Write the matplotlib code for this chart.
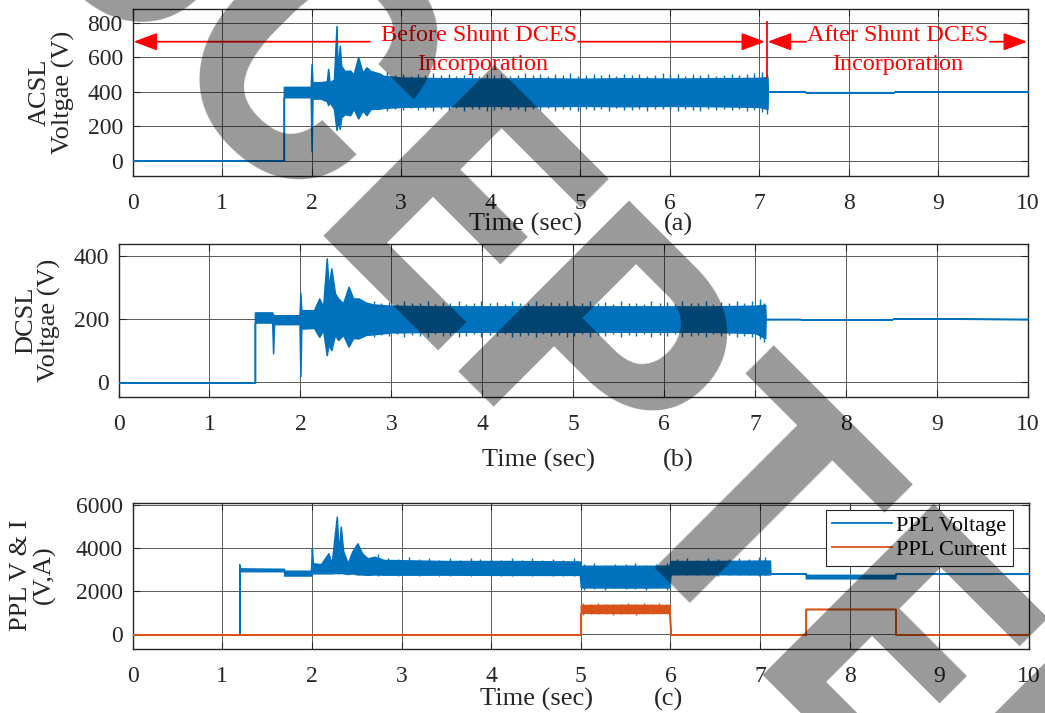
import matplotlib
matplotlib.use("Agg")
import matplotlib.pyplot as plt
from matplotlib.lines import Line2D

plt.rcParams['font.family'] = ['Liberation Serif', 'DejaVu Serif']

BLUE = '#0072BD'
ORANGE = '#D95319'
AXC = '#262626'

# ---------------- data ----------------
# (a) ACSL voltage: upper / lower envelope of the dense part of the trace
acsl_t = [0, 1.69, 1.69, 1.99, 2.0, 2.01, 2.10, 2.17, 2.185, 2.20, 2.25, 2.278, 2.29, 2.315,
          2.33, 2.37, 2.43, 2.47, 2.52, 2.57, 2.613, 2.66, 2.76,
          2.8, 3.0, 3.5, 4.0, 4.5, 5.0, 5.5, 6.0, 6.5, 7.0, 7.09,
          7.095, 7.5, 7.52, 8.5, 8.52, 10]
acsl_hi = [0, 0, 428, 428, 561, 455, 455, 460, 532, 455, 470, 781, 520, 666,
           550, 520, 522, 500, 600, 510, 541, 520, 505,
           492, 482, 478, 476, 478, 475, 478, 476, 478, 480, 485,
           401, 401, 397, 397, 402, 401]
acsl_lo = [0, 0, 368, 368, 54, 360, 360, 345, 322, 340, 300, 178, 230, 185,
           250, 270, 264, 300, 245, 290, 264, 300, 302,
           306, 312, 316, 318, 316, 318, 316, 318, 316, 312, 300,
           401, 401, 397, 397, 402, 401]
# (a) short noise spikes on the edges of the band
acsl_sp_t = [2.84, 2.93, 3.02, 3.11, 3.19, 3.27, 3.36, 3.45, 3.53, 3.61, 3.70, 3.79, 3.87,
             3.96, 4.04, 4.12, 4.21, 4.30, 4.38, 4.47, 4.55, 4.64, 4.72, 4.81, 4.89, 4.98,
             5.06, 5.15, 5.23, 5.32, 5.40, 5.49, 5.58, 5.66, 5.75, 5.83, 5.92, 6.00, 6.09,
             6.17, 6.26, 6.34, 6.43, 6.52, 6.60, 6.69, 6.77, 6.86, 6.94, 7.03, 7.08]
acsl_sp_hi = [512, 498, 505, 492, 500, 496, 508, 494, 502, 490, 498, 506, 492,
              500, 495, 504, 490, 498, 506, 494, 500, 492, 503, 496, 508, 490,
              498, 502, 494, 505, 492, 500, 496, 504, 490, 498, 507, 494, 500,
              492, 502, 496, 505, 490, 498, 503, 494, 500, 506, 513, 505]
acsl_sp_lo = [288, 300, 294, 304, 292, 298, 286, 302, 296, 304, 290, 298, 300,
              288, 296, 302, 292, 300, 286, 298, 294, 304, 290, 300, 296, 288,
              302, 294, 298, 290, 304, 296, 292, 300, 288, 298, 302, 294, 290,
              300, 296, 288, 302, 294, 298, 292, 300, 288, 296, 280, 268]

# (b) DCSL voltage envelope
dcsl_t = [0, 1.5, 1.5, 1.69, 1.70, 1.71, 1.99, 2.0, 2.01, 2.15, 2.207, 2.25, 2.29, 2.31, 2.34,
          2.38, 2.415, 2.47, 2.53, 2.58, 2.64, 2.72,
          2.8, 3.0, 3.5, 4.0, 4.5, 5.0, 5.5, 6.0, 6.5, 7.0, 7.11,
          7.115, 7.5, 7.52, 8.5, 8.52, 10]
dcsl_hi = [0, 0, 221, 221, 214, 212, 212, 283, 228, 228, 265, 240, 392, 300, 360,
           281, 265, 250, 302, 265, 265, 252,
           246, 242, 240, 240, 240, 240, 240, 240, 240, 242, 245,
           200, 200, 198, 198, 202, 200]
dcsl_lo = [0, 0, 189, 189, 92, 184, 184, 20, 170, 172, 144, 165, 86, 120, 102,
           150, 134, 150, 113, 140, 139, 150,
           152, 158, 160, 160, 160, 160, 160, 160, 160, 156, 140,
           200, 200, 198, 198, 202, 200]
dcsl_sp_t = [2.81, 2.89, 2.97, 3.06, 3.14, 3.23, 3.31, 3.40, 3.48, 3.57, 3.65, 3.74, 3.82,
             3.91, 3.99, 4.08, 4.16, 4.25, 4.33, 4.42, 4.50, 4.59, 4.67, 4.76, 4.84, 4.93,
             5.01, 5.10, 5.18, 5.27, 5.35, 5.44, 5.52, 5.61, 5.69, 5.78, 5.86, 5.95, 6.03,
             6.12, 6.20, 6.29, 6.37, 6.46, 6.54, 6.63, 6.71, 6.80, 6.88, 6.97, 7.05, 7.10]
dcsl_sp_hi = [258, 250, 254, 248, 256, 250, 252, 258, 248, 254, 250, 256, 248,
              252, 258, 250, 254, 248, 256, 252, 250, 258, 248, 254, 250, 256,
              248, 252, 258, 250, 254, 248, 256, 250, 252, 248, 258, 250, 254,
              248, 256, 252, 250, 258, 248, 254, 250, 256, 252, 258, 262, 250]
dcsl_sp_lo = [144, 150, 146, 152, 142, 150, 148, 144, 152, 146, 150, 142, 148,
              152, 144, 150, 146, 152, 142, 148, 150, 144, 152, 146, 150, 142,
              148, 152, 144, 150, 146, 152, 142, 150, 148, 152, 144, 150, 146,
              152, 142, 148, 150, 144, 152, 146, 150, 142, 148, 144, 136, 128]

# (c) PPL voltage envelope
pplv_t = [0, 1.19, 1.19, 1.195, 1.69, 1.69, 1.99, 2.0, 2.01, 2.1, 2.185, 2.22, 2.278, 2.30,
          2.322, 2.35, 2.40, 2.45, 2.508, 2.56, 2.62, 2.70,
          2.8, 3.5, 4.2, 4.99, 5.0, 5.5, 5.99, 6.0, 6.5, 7.0, 7.11,
          7.115, 7.51, 7.51, 8.51, 8.51, 10]
pplv_hi = [0, 0, 3249, 3060, 3040, 2950, 2950, 3991, 3300, 3250, 3760, 3250, 5461, 3700,
           4997, 3840, 3300, 3840, 4223, 3760, 3527, 3600,
           3450, 3400, 3400, 3380, 3180, 3180, 3180, 3400, 3400, 3420, 3420,
           2830, 2830, 2760, 2760, 2810, 2810]
pplv_lo = [0, 0, 0, 2930, 2930, 2730, 2730, 2800, 2831, 2831, 2831, 2831, 2850, 2831,
           2850, 2831, 2800, 2831, 2780, 2780, 2760, 2780,
           2770, 2770, 2760, 2760, 2180, 2170, 2180, 2790, 2790, 2780, 2780,
           2830, 2830, 2600, 2600, 2810, 2810]
pplv_sp_t = [2.74, 2.85, 2.96, 3.08, 3.19, 3.31, 3.42, 3.54, 3.65, 3.77, 3.88, 4.00, 4.11,
             4.23, 4.34, 4.46, 4.57, 4.69, 4.80, 4.92, 5.04, 5.15, 5.27, 5.38, 5.50, 5.61,
             5.73, 5.84, 5.96, 6.07, 6.19, 6.30, 6.42, 6.53, 6.65, 6.76, 6.88, 6.99, 7.06]
pplv_sp_hi = [3750, 3560, 3500, 3600, 3480, 3540, 3470, 3520, 3460, 3560, 3480, 3500, 3450,
              3520, 3460, 3540, 3450, 3500, 3460, 3520, 3260, 3300, 3240, 3280, 3250, 3290,
              3240, 3280, 3300, 3480, 3520, 3460, 3540, 3480, 3500, 3560, 3500, 3580, 3605]
pplv_sp_lo = [2720, 2740, 2700, 2730, 2710, 2740, 2700, 2720, 2730, 2700, 2740, 2710, 2720,
              2700, 2730, 2710, 2740, 2700, 2720, 2710, 2080, 2120, 2060, 2140, 2090, 2110,
              2070, 2130, 2050, 2740, 2760, 2730, 2750, 2720, 2760, 2740, 2730, 2700, 2750]

# (c) PPL current envelope
ppli_t = [0, 5.0, 5.0, 5.5, 5.99, 6.0, 7.51, 7.51, 8.51, 8.51, 10]
ppli_hi = [0, 0, 1360, 1370, 1360, 0, 0, 1176, 1176, 0, 0]
ppli_lo = [0, 0, 1000, 990, 1000, 0, 0, 1176, 1176, 0, 0]
ppli_sp_t = [5.03, 5.11, 5.19, 5.28, 5.36, 5.45, 5.53, 5.62, 5.70, 5.79, 5.87, 5.96]
ppli_sp_hi = [1440, 1410, 1450, 1400, 1430, 1420, 1460, 1400, 1440, 1420, 1450, 1430]
ppli_sp_lo = [920, 950, 930, 960, 910, 940, 950, 920, 960, 930, 940, 950]

xticks = list(range(0, 11))
yticks_a = [0, 200, 400, 600, 800]
yticks_b = [0, 200, 400]
yticks_c = [0, 2000, 4000, 6000]

# ---------------- figure ----------------
W, H = 1045, 713
DPI = 100
fig = plt.figure(figsize=(W / DPI, H / DPI), dpi=DPI)


def box(l, r, t, b):
    return [l / W, 1 - b / H, (r - l) / W, (b - t) / H]


ax_a = fig.add_axes(box(132.5, 1028, 9.3, 176))
ax_b = fig.add_axes(box(118.5, 1028, 244, 397.3))
ax_c = fig.add_axes(box(132.6, 1029, 502.7, 649))


def style(ax, ylim, yticks):
    ax.set_xlim(0, 10)
    ax.set_ylim(*ylim)
    ax.set_xticks(xticks)
    ax.set_yticks(yticks)
    ax.grid(True, color='#5a5a5a', lw=0.7)
    ax.set_axisbelow(True)
    ax.tick_params(axis='both', direction='in', length=5, width=0.8, top=True, right=True,
                   color=AXC, labelcolor=AXC, labelsize=17)
    ax.tick_params(axis='x', pad=12)
    ax.tick_params(axis='y', pad=7)
    for s in ax.spines.values():
        s.set_color(AXC)
        s.set_linewidth(1.0)


style(ax_a, (-89, 878), yticks_a)
style(ax_b, (-47, 437), yticks_b)
style(ax_c, (-680, 6107), yticks_c)


def trace(ax, t, lo, hi, sp_t, sp_lo, sp_hi, color):
    ax.fill_between(t, lo, hi, color=color, lw=1.1, edgecolor=color, zorder=3)
    ax.vlines(sp_t, sp_lo, sp_hi, color=color, lw=1.0, zorder=3)


trace(ax_a, acsl_t, acsl_lo, acsl_hi, acsl_sp_t, acsl_sp_lo, acsl_sp_hi, BLUE)
trace(ax_b, dcsl_t, dcsl_lo, dcsl_hi, dcsl_sp_t, dcsl_sp_lo, dcsl_sp_hi, BLUE)
trace(ax_c, pplv_t, pplv_lo, pplv_hi, pplv_sp_t, pplv_sp_lo, pplv_sp_hi, BLUE)
trace(ax_c, ppli_t, ppli_lo, ppli_hi, ppli_sp_t, ppli_sp_lo, ppli_sp_hi, ORANGE)

# y labels
lab_kw = dict(fontsize=19, linespacing=1.05, color=AXC, va='center', ha='center')
ax_a.set_ylabel('ACSL\nVoltgae (V)', **lab_kw)
ax_a.yaxis.set_label_coords(-0.090, 0.5)
ax_b.set_ylabel('DCSL\nVoltgae (V)', **lab_kw)
ax_b.yaxis.set_label_coords(-0.0885, 0.5)
ax_c.set_ylabel('PPL V & I\n(V,A)', **lab_kw)
ax_c.yaxis.set_label_coords(-0.111, 0.505)

# x labels and panel tags
xl_kw = dict(fontsize=19, color=AXC, ha='center', va='center')
ax_a.text(0.439, -0.288, 'Time (sec)', transform=ax_a.transAxes, **xl_kw)
ax_a.text(0.610, -0.288, '(a)', transform=ax_a.transAxes, **xl_kw)
ax_b.text(0.462, -0.409, 'Time (sec)', transform=ax_b.transAxes, **xl_kw)
ax_b.text(0.615, -0.409, '(b)', transform=ax_b.transAxes, **xl_kw)
ax_c.text(0.4506, -0.342, 'Time (sec)', transform=ax_c.transAxes, **xl_kw)
ax_c.text(0.598, -0.342, '(c)', transform=ax_c.transAxes, **xl_kw)

# legend
handles = [Line2D([], [], color=BLUE, lw=1.3), Line2D([], [], color=ORANGE, lw=1.3)]
leg = ax_c.legend(handles, ['PPL Voltage', 'PPL Current'], loc='upper right',
                  bbox_to_anchor=(0.982, 0.950), borderaxespad=0, fontsize=16,
                  handlelength=2.7, handletextpad=0.2, borderpad=0.25, labelspacing=0.15,
                  fancybox=False, framealpha=1, edgecolor=AXC)
leg.get_frame().set_linewidth(0.8)
leg.set_zorder(5)

# red annotations in (a)
RED = '#FF0000'
ay = 690
arr = dict(arrowstyle='-|>,head_length=0.72,head_width=0.27', color=RED, lw=1.3,
           shrinkA=0, shrinkB=0, mutation_scale=20)
ax_a.annotate('', xy=(0.012, ay), xytext=(2.652, ay), arrowprops=arr, zorder=6)
ax_a.annotate('', xy=(7.063, ay), xytext=(4.978, ay), arrowprops=arr, zorder=6)
ax_a.annotate('', xy=(7.093, ay), xytext=(7.521, ay), arrowprops=arr, zorder=6)
ax_a.annotate('', xy=(9.989, ay), xytext=(9.575, ay), arrowprops=arr, zorder=6)
ax_a.plot([7.082, 7.082], [487, 806], color=RED, lw=1.3, zorder=6)
rt = dict(color=RED, fontsize=17.4, ha='center', va='baseline', zorder=6)
ax_a.text(3.869, 695, 'Before Shunt DCES', **rt)
ax_a.text(3.910, 524, 'Incorporation', **rt)
ax_a.text(8.548, 695, 'After Shunt DCES', **rt)
ax_a.text(8.543, 524, 'Incorporation', **rt)

# diagonal watermark (pen origin on the baseline, in image pixels from top-left)
WM_ORIGIN_PX = (-169.0, -255.0)
WM_EM_PX = 340.0
fig.text(WM_ORIGIN_PX[0] / W, 1 - WM_ORIGIN_PX[1] / H, 'ACCEPTED', rotation=-45,
         rotation_mode='anchor', ha='left', va='baseline',
         fontsize=WM_EM_PX * 72 / DPI, family=['Roboto', 'Liberation Sans'],
         fontweight='bold', color='black', alpha=0.4, zorder=20)

fig.savefig('out.png', dpi=DPI)
